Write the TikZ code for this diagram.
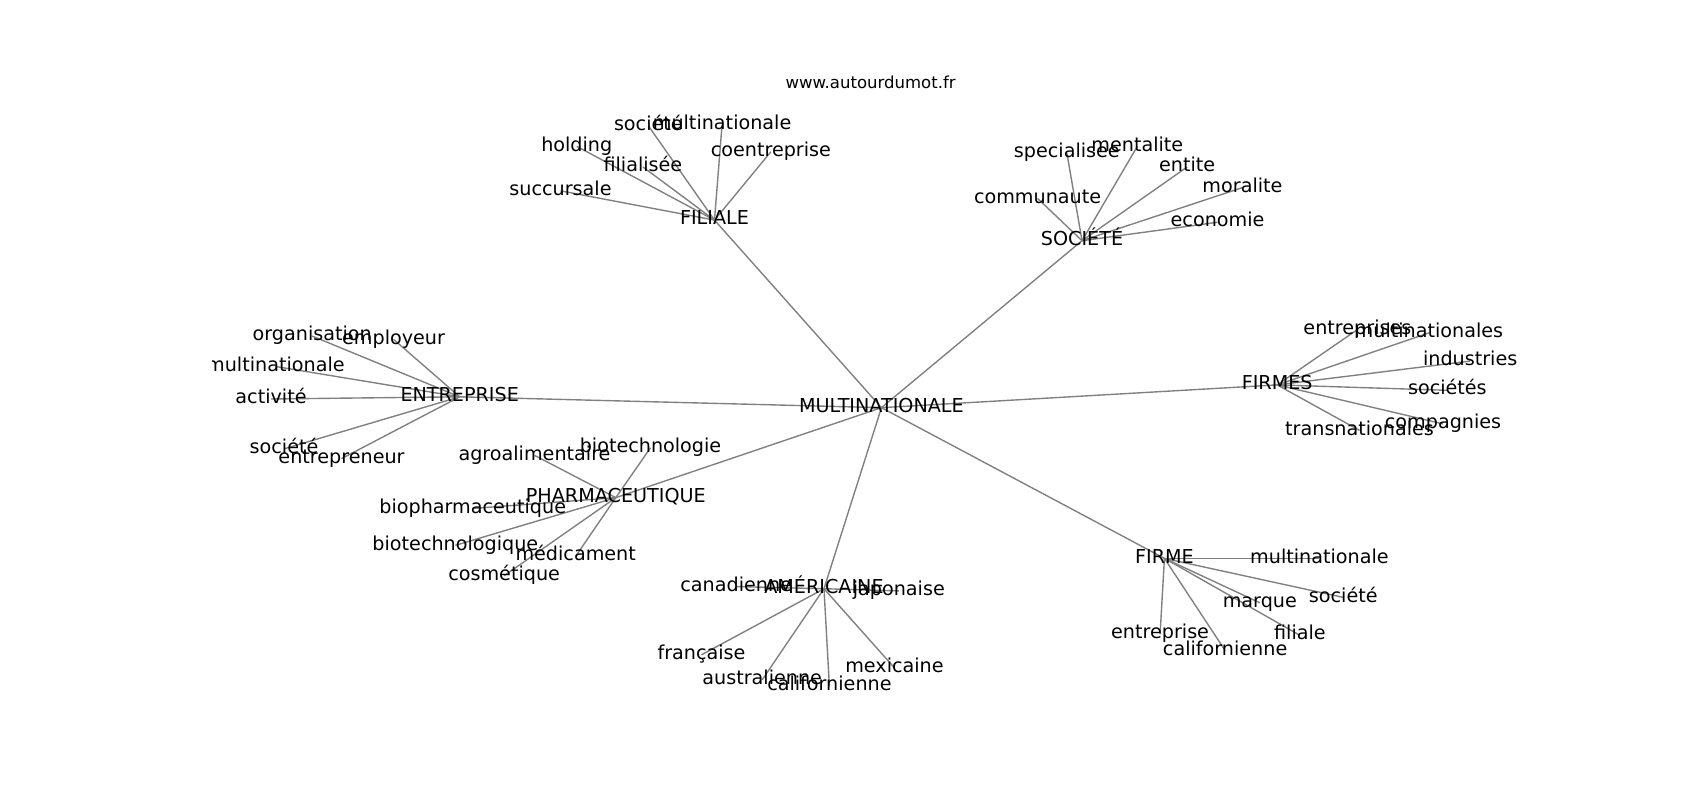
\documentclass[tikz,border=0pt]{standalone}
\usepackage{fontspec}
\setmainfont{DejaVu Sans}
\usetikzlibrary{backgrounds}

\tikzset{
	word/.style={font=\fontsize{13.8}{16}\selectfont, inner sep=0pt, text height=10pt, text depth=3.3pt},
	link/.style={draw=gray, line width=1pt}
}

\begin{document}
\begin{tikzpicture}[x=0.7806pt, y=-0.7806pt]
	\useasboundingbox (0,0) rectangle (1568,738);

	% title
	\node[font=\fontsize{11.9}{14}\selectfont] (title) at (803,76) {www.autourdumot.fr};

	\begin{scope}[shift={(0,2)}]
	\clip (196,86) rectangle (1411,655);

	% centre and hubs
	\node[word] (multi) at (813,374) {MULTINATIONALE};
	\node[word] (filiale) at (659,201) {FILIALE};
	\node[word] (societe) at (998,220) {SOCIÉTÉ};
	\node[word] (entreprise) at (424,364) {ENTREPRISE};
	\node[word] (pharma) at (568,457) {PHARMACEUTIQUE};
	\node[word] (americaine) at (760,541) {AMÉRICAINE};
	\node[word] (firme) at (1074,513) {FIRME};
	\node[word] (firmes) at (1178,353) {FIRMES};

	% FILIALE
	\node[word] (filSociete) at (598,114) {société};
	\node[word] (filMulti) at (666,113) {multinationale};
	\node[word] (filHolding) at (532,133) {holding};
	\node[word] (filFilialisee) at (593,152) {filialisée};
	\node[word] (filCoentreprise) at (711,138) {coentreprise};
	\node[word] (filSuccursale) at (517,174) {succursale};

	% SOCIÉTÉ
	\node[word] (socSpecialisee) at (984,139) {specialisee};
	\node[word] (socMentalite) at (1049,133) {mentalite};
	\node[word] (socEntite) at (1095,152) {entite};
	\node[word] (socMoralite) at (1146,171) {moralite};
	\node[word] (socCommunaute) at (957,181) {communaute};
	\node[word] (socEconomie) at (1123,203) {economie};

	% ENTREPRISE
	\node[word] (entOrganisation) at (288,308) {organisation};
	\node[word] (entEmployeur) at (363,311) {employeur};
	\node[word] (entMulti) at (254,336) {multinationale};
	\node[word] (entActivite) at (250,366) {activité};
	\node[word] (entSociete) at (262,412) {société};
	\node[word] (entEntrepreneur) at (315,421) {entrepreneur};

	% PHARMACEUTIQUE
	\node[word] (phaAgro) at (493,418) {agroalimentaire};
	\node[word] (phaBiotechnologie) at (600,411) {biotechnologie};
	\node[word] (phaBiopharma) at (436,467) {biopharmaceutique};
	\node[word] (phaBiotechnologique) at (420,501) {biotechnologique};
	\node[word] (phaMedicament) at (531,511) {médicament};
	\node[word] (phaCosmetique) at (465,529) {cosmétique};

	% AMÉRICAINE
	\node[word] (amCanadienne) at (679,539) {canadienne};
	\node[word] (amJaponaise) at (829,543) {japonaise};
	\node[word] (amFrancaise) at (647,602) {française};
	\node[word] (amAustralienne) at (703,625) {australienne};
	\node[word] (amCalifornienne) at (765,631) {californienne};
	\node[word] (amMexicaine) at (825,614) {mexicaine};

	% FIRME
	\node[word] (fiMulti) at (1217,513) {multinationale};
	\node[word] (fiSociete) at (1239,549) {société};
	\node[word] (fiMarque) at (1162,554) {marque};
	\node[word] (fiFiliale) at (1199,584) {filiale};
	\node[word] (fiEntreprise) at (1070,583) {entreprise};
	\node[word] (fiCalifornienne) at (1130,598) {californienne};

	% FIRMES
	\node[word] (fsEntreprises) at (1252,302) {entreprises};
	\node[word] (fsMulti) at (1318,305) {multinationales};
	\node[word] (fsIndustries) at (1356,331) {industries};
	\node[word] (fsSocietes) at (1335,358) {sociétés};
	\node[word] (fsCompagnies) at (1331,389) {compagnies};
	\node[word] (fsTrans) at (1254,395) {transnationales};
	\end{scope}

	% links
	\begin{pgfonlayer}{background}
	\foreach \hub in {filiale, societe, entreprise, pharma, americaine, firme, firmes}
		\draw[link] (multi.center) -- (\hub.center);
	\foreach \leaf in {filSociete, filMulti, filHolding, filFilialisee, filCoentreprise, filSuccursale}
		\draw[link] (filiale.center) -- (\leaf.center);
	\foreach \leaf in {socSpecialisee, socMentalite, socEntite, socMoralite, socCommunaute, socEconomie}
		\draw[link] (societe.center) -- (\leaf.center);
	\foreach \leaf in {entOrganisation, entEmployeur, entMulti, entActivite, entSociete, entEntrepreneur}
		\draw[link] (entreprise.center) -- (\leaf.center);
	\foreach \leaf in {phaAgro, phaBiotechnologie, phaBiopharma, phaBiotechnologique, phaMedicament, phaCosmetique}
		\draw[link] (pharma.center) -- (\leaf.center);
	\foreach \leaf in {amCanadienne, amJaponaise, amFrancaise, amAustralienne, amCalifornienne, amMexicaine}
		\draw[link] (americaine.center) -- (\leaf.center);
	\foreach \leaf in {fiMulti, fiSociete, fiMarque, fiFiliale, fiEntreprise, fiCalifornienne}
		\draw[link] (firme.center) -- (\leaf.center);
	\foreach \leaf in {fsEntreprises, fsMulti, fsIndustries, fsSocietes, fsCompagnies, fsTrans}
		\draw[link] (firmes.center) -- (\leaf.center);
	\end{pgfonlayer}
\end{tikzpicture}
\end{document}
